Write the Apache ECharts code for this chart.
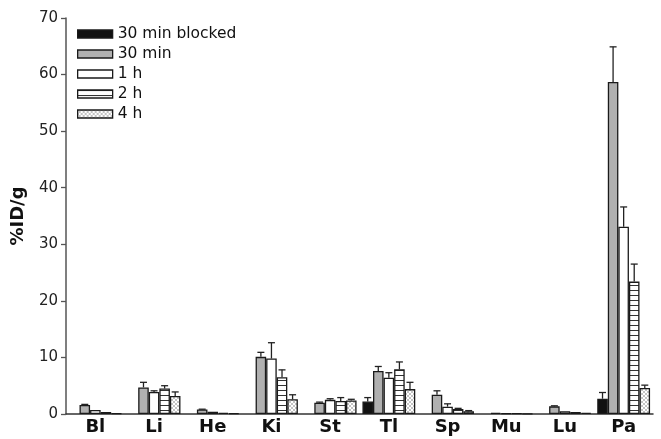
<!DOCTYPE html>
<html>
<head>
<meta charset="utf-8">
<script src="https://cdn.jsdelivr.net/npm/echarts@6/dist/echarts.min.js"></script>
<style>
  html, body { margin: 0; padding: 0; background: #fff; }
  #chart { width: 661px; height: 439px; }
</style>
</head>
<body>
<div id="chart"></div>
<script>
// Organ uptake (%ID/g) per time point
const organs = ['Bl', 'Li', 'He', 'Ki', 'St', 'Tl', 'Sp', 'Mu', 'Lu', 'Pa'];
const seriesNames = ['30 min blocked', '30 min', '1 h', '2 h', '4 h'];
const yTicks = [0, 10, 20, 30, 40, 50, 60, 70];

const blocked30   = [null, null, null, null, null, 2.2, null, null, null, 2.7];
const min30       = [1.6, 4.7, 0.8, 10.1, 2.0, 7.6, 3.4, 0.2, 1.35, 58.7];
const hour1       = [0.7, 3.9, 0.4, 9.8, 2.5, 6.4, 1.3, 0.1, 0.5, 33.1];
const hour2       = [0.35, 4.5, 0.2, 6.5, 2.3, 7.9, 0.9, 0.1, 0.35, 23.4];
const hour4       = [0.1, 3.2, 0.15, 2.6, 2.4, 4.4, 0.5, 0.05, 0.2, 4.6];

// Upper error (SD) for each group
const blocked30Err = [0, 0, 0, 0, 0, 0.7, 0, 0, 0, 1.1];
const min30Err     = [0.1, 0.9, 0.05, 0.8, 0.1, 0.8, 0.7, 0, 0.1, 6.2];
const hour1Err     = [0, 0.2, 0, 2.8, 0.2, 0.9, 0.5, 0, 0, 3.5];
const hour2Err     = [0, 0.5, 0, 1.3, 0.6, 1.3, 0.1, 0, 0, 3.1];
const hour4Err     = [0, 0.7, 0, 0.8, 0.2, 1.2, 0.1, 0, 0, 0.5];

const values = [blocked30, min30, hour1, hour2, hour4];
const errors = [blocked30Err, min30Err, hour1Err, hour2Err, hour4Err];

const FONT = 'DejaVu Sans, Liberation Sans, Arial, sans-serif';

// Fill patterns for the 2 h (horizontal stripes) and 4 h (fine cross-hatch) bars
function stripePattern() {
  const c = document.createElement('canvas');
  c.width = 4; c.height = 5;
  const g = c.getContext('2d');
  g.fillStyle = '#ffffff'; g.fillRect(0, 0, 4, 5);
  g.fillStyle = '#333333'; g.fillRect(0, 0, 4, 1);
  return { image: c, repeat: 'repeat' };
}
function hatchPattern() {
  const c = document.createElement('canvas');
  c.width = 4; c.height = 4;
  const g = c.getContext('2d');
  g.fillStyle = '#ffffff'; g.fillRect(0, 0, 4, 4);
  g.fillStyle = '#c4c4c4';
  [[0,0],[1,1],[2,2],[3,3],[3,0],[2,1],[1,2],[0,3]].forEach(p => g.fillRect(p[0], p[1], 1, 1));
  return { image: c, repeat: 'repeat' };
}

const fills = ['#111111', '#b0b0b0', '#ffffff', stripePattern(), hatchPattern()];
const nBars = seriesNames.length;
const catGap = 0.1;

const barSeries = seriesNames.map((name, s) => ({
  name: name,
  type: 'bar',
  data: values[s],
  barGap: '0%',
  barCategoryGap: (catGap * 100) + '%',
  itemStyle: { color: fills[s], borderColor: '#1a1a1a', borderWidth: 1.3 },
  z: 2
}));

// Upper whiskers drawn on top of each bar
const errorSeries = seriesNames.map((name, s) => ({
  type: 'custom',
  name: name,
  z: 3,
  silent: true,
  encode: { x: 0, y: 1 },
  data: values[s].map((v, i) => [i, v == null ? 0 : v, errors[s][i]]),
  renderItem: function (params, api) {
    const cat = api.value(0), v = api.value(1), e = api.value(2);
    if (!e || e <= 0) return null;
    const base = api.coord([cat, v]);
    const top = api.coord([cat, v + e]);
    const band = api.size([1, 0])[0];
    const bw = band * (1 - catGap) / nBars;
    const x = base[0] + (s - (nBars - 1) / 2) * bw;
    const style = { stroke: '#222', lineWidth: 1.3 };
    return {
      type: 'group',
      children: [
        { type: 'line', shape: { x1: x, y1: base[1], x2: x, y2: top[1] }, style: style },
        { type: 'line', shape: { x1: x - 3.5, y1: top[1], x2: x + 3.5, y2: top[1] }, style: style }
      ]
    };
  }
}));

const chart = echarts.init(document.getElementById('chart'));
chart.setOption({
  animation: false,
  backgroundColor: '#ffffff',
  textStyle: { fontFamily: FONT },
  grid: { left: 66, right: 8, top: 18, bottom: 25 },
  legend: {
    data: seriesNames.map(n => ({ name: n, icon: 'rect' })),
    orient: 'vertical',
    left: 72,
    top: 21,
    itemWidth: 35,
    itemHeight: 8,
    itemGap: 4,
    itemStyle: { borderColor: '#1a1a1a', borderWidth: 1.3 },
    textStyle: { fontSize: 15.5, color: '#111', fontFamily: FONT }
  },
  xAxis: {
    type: 'category',
    data: organs,
    axisLine: { lineStyle: { color: '#333', width: 1.5 } },
    axisTick: { show: false },
    axisLabel: { fontSize: 18, fontWeight: 'bold', color: '#111', margin: 4, fontFamily: FONT }
  },
  yAxis: {
    type: 'value',
    min: yTicks[0],
    max: yTicks[yTicks.length - 1],
    interval: 10,
    name: '%ID/g',
    nameLocation: 'middle',
    nameGap: 39,
    nameTextStyle: { fontSize: 18, fontWeight: 'bold', color: '#111', fontFamily: FONT },
    axisLine: { show: true, lineStyle: { color: '#555', width: 1.5 } },
    axisTick: { show: true, length: 5, lineStyle: { color: '#555', width: 1.3 } },
    axisLabel: { fontSize: 15, color: '#222', margin: 8, fontFamily: FONT },
    splitLine: { show: false }
  },
  series: barSeries.concat(errorSeries)
});
</script>
</body>
</html>
